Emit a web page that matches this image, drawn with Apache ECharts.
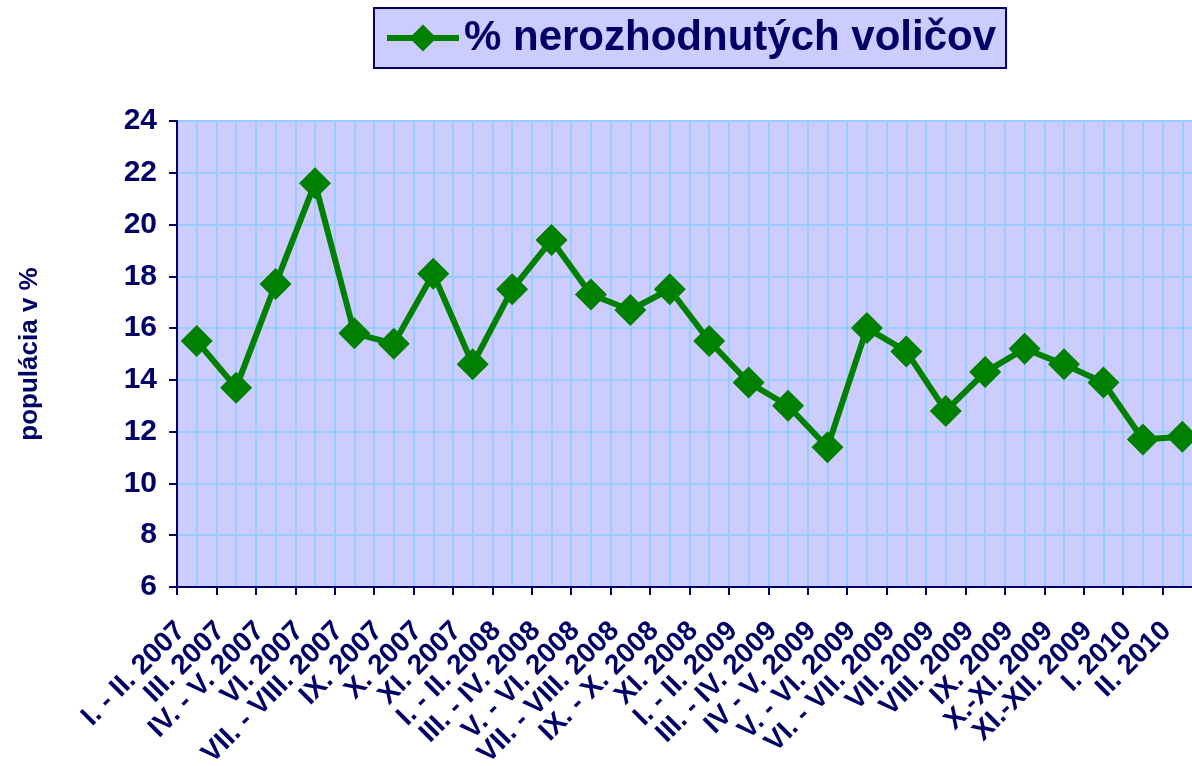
<!DOCTYPE html>
<html>
<head>
<meta charset="utf-8">
<script src="https://cdn.jsdelivr.net/npm/echarts@6/dist/echarts.min.js"></script>
<style>
  html, body { margin: 0; padding: 0; background: #fff; overflow: hidden; }
  #chart { width: 1202px; height: 766px; }
</style>
</head>
<body>
<div id="chart"></div>
<script>
var periods = [
  'I. - II. 2007', 'III. 2007', 'IV. - V. 2007', 'VI. 2007', 'VII. - VIII. 2007',
  'IX. 2007', 'X. 2007', 'XI. 2007', 'I. - II. 2008', 'III. - IV. 2008',
  'V. - VI. 2008', 'VII. - VIII. 2008', 'IX. - X. 2008', 'XI. 2008', 'I. - II. 2009',
  'III. - IV. 2009', 'IV - V. 2009', 'V. - VI. 2009', 'VI. - VII. 2009', 'VII. 2009',
  'VIII. 2009', 'IX. 2009', 'X.-XI. 2009', 'XI.-XII. 2009', 'I. 2010', 'II. 2010'
];
var undecided = [
  15.5, 13.7, 17.7, 21.6, 15.8, 15.4, 18.1, 14.6, 17.5, 19.4,
  17.3, 16.7, 17.5, 15.5, 13.9, 13.0, 11.4, 16.0, 15.1, 12.8,
  14.3, 15.2, 14.6, 13.9, 11.7, 11.8
];

var navy = '#000066';
var green = '#008000';
var font = "'Liberation Sans', Arial, sans-serif";

var chart = echarts.init(document.getElementById('chart'));

chart.setOption({
  animation: false,
  textStyle: { fontFamily: font },
  legend: {
    left: 374,
    top: 8,
    padding: [7, 10, 7, 10],
    backgroundColor: '#CCCCFF',
    borderColor: navy,
    borderWidth: 2,
    itemWidth: 72,
    itemHeight: 34,
    itemGap: 10,
    lineStyle: { width: 6 },
    textStyle: { color: navy, fontSize: 42, fontWeight: 'bold', fontFamily: font, lineHeight: 46 }
  },
  grid: {
    left: 177, top: 121, right: 0, bottom: 179,
    outerBoundsMode: 'none',
    show: true, backgroundColor: '#CCCCFF', borderWidth: 0
  },
  xAxis: [{
    type: 'category',
    data: periods,
    boundaryGap: true,
    axisLine: { lineStyle: { color: navy, width: 2 } },
    axisTick: { show: true, length: 8, lineStyle: { color: navy, width: 2 } },
    splitLine: { show: false },
    axisLabel: {
      interval: 0, rotate: 45, margin: 24,
      padding: [0, 22, 0, 0],
      color: navy, fontSize: 28, fontWeight: 'bold', fontFamily: font
    }
  }, {
    // only used for the half-category vertical grid lines
    type: 'value',
    min: 0, max: 52, interval: 1,
    position: 'top',
    axisLine: { show: false },
    axisTick: { show: false },
    axisLabel: { show: false },
    splitLine: { show: true, lineStyle: { color: '#99CCFF', width: 2 } }
  }],
  yAxis: {
    type: 'value',
    min: 6, max: 24, interval: 2,
    name: 'populácia v %',
    nameLocation: 'middle',
    nameGap: 134,
    nameTextStyle: { color: navy, fontSize: 26, fontWeight: 'bold', fontFamily: font },
    axisLine: { show: true, lineStyle: { color: navy, width: 2 } },
    axisTick: { show: true, length: 8, lineStyle: { color: navy, width: 2 } },
    axisLabel: { color: navy, fontSize: 30, fontWeight: 'bold', fontFamily: font, margin: 20 },
    splitLine: { show: true, lineStyle: { color: '#99CCFF', width: 2 } }
  },
  series: [{
    name: '% nerozhodnutých voličov',
    type: 'line',
    xAxisIndex: 0,
    data: undecided,
    symbol: 'diamond',
    symbolSize: 32,
    color: green,
    lineStyle: { color: green, width: 6 },
    itemStyle: { color: green },
    z: 5
  }]
});
</script>
</body>
</html>
